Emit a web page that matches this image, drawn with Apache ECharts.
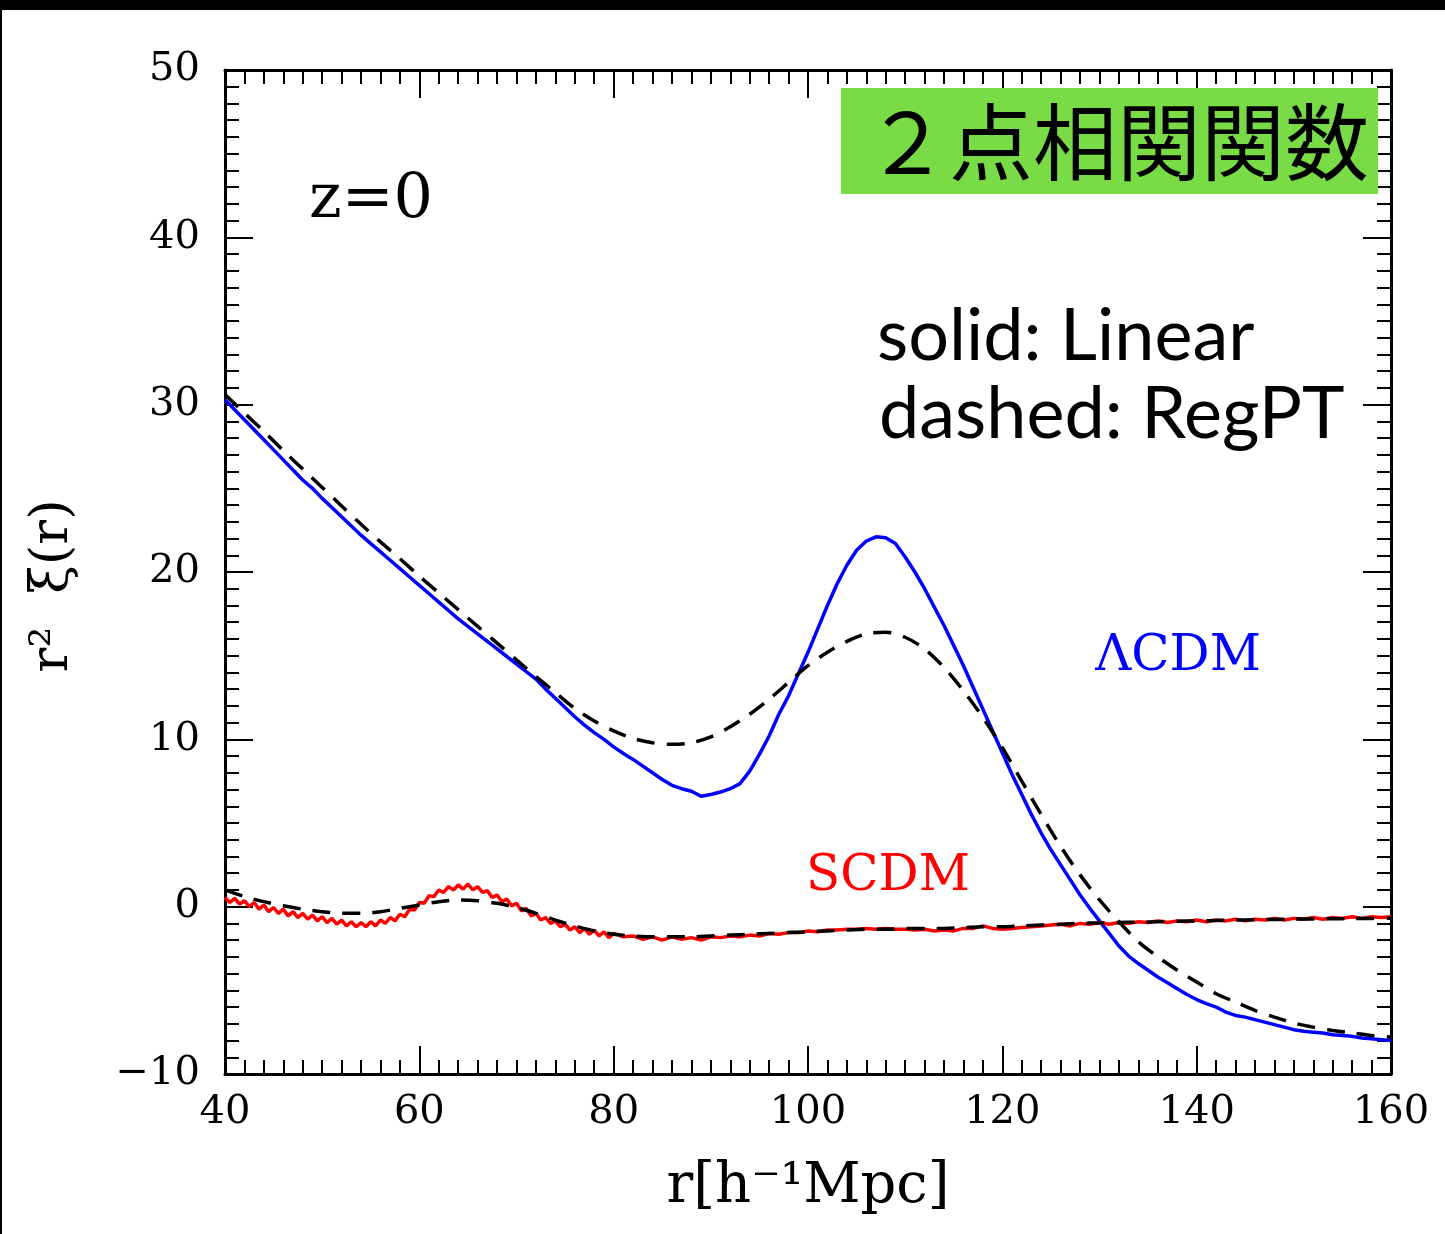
<!DOCTYPE html>
<html>
<head>
<meta charset="utf-8">
<script src="https://cdn.jsdelivr.net/npm/echarts@6/dist/echarts.min.js"></script>
<style>
html,body{margin:0;padding:0;background:#fff;}
#chart{width:1445px;height:1234px;}
</style>
</head>
<body>
<div id="chart"></div>
<script>
// ---------- data (r [h^-1 Mpc], r^2 xi(r)) ----------
const xTicks = [40, 60, 80, 100, 120, 140, 160];
const yTicks = [-10, 0, 10, 20, 30, 40, 50];

const lcdmLinear = [
[40,30.3],[41,29.7],[42,29.1],[43,28.5],[44,27.9],[45,27.3],[46,26.7],[47,26.1],[48,25.5],[49,25.0],
[50,24.4],[51,23.85],[52,23.3],[53,22.75],[54,22.2],[55,21.7],[56,21.2],[57,20.7],[58,20.2],[59,19.7],
[60,19.2],[61,18.7],[62,18.2],[63,17.7],[64,17.2],[65,16.75],[66,16.3],[67,15.85],[68,15.4],[69,14.95],
[70,14.5],[71,14.05],[72,13.6],[73,13.0],[74,12.45],[75,11.9],[76,11.35],[77,10.85],[78,10.4],[79,10.0],
[80,9.55],[81,9.15],[82,8.8],[83,8.4],[84,8.0],[85,7.6],[86,7.25],[87,7.05],[88,6.9],[89,6.6],
[90,6.7],[91,6.85],[92,7.05],[93,7.35],[94,8.1],[95,9.1],[96,10.2],[97,11.5],[98,12.6],[99,13.9],
[100,15.2],[101,16.6],[102,18.0],[103,19.3],[104,20.4],[105,21.3],[106,21.85],[107,22.1],[108,22.05],[109,21.7],
[110,20.9],[111,20.0],[112,19.0],[113,17.9],[114,16.8],[115,15.6],[116,14.4],[117,13.1],[118,11.8],[119,10.5],
[120,9.2],[121,7.9],[122,6.7],[123,5.5],[124,4.4],[125,3.4],[126,2.5],[127,1.6],[128,0.7],[129,-0.1],
[130,-0.85],[131,-1.6],[132,-2.35],[133,-2.95],[134,-3.4],[135,-3.8],[136,-4.2],[137,-4.55],[138,-4.9],[139,-5.25],
[140,-5.55],[141,-5.8],[142,-6.0],[143,-6.3],[144,-6.5],[145,-6.6],[146,-6.75],[147,-6.9],[148,-7.05],[149,-7.2],
[150,-7.35],[151,-7.45],[152,-7.5],[153,-7.55],[154,-7.65],[155,-7.7],[156,-7.75],[157,-7.85],[158,-7.9],[159,-7.95],
[160,-8.0]
];

const lcdmRegPT = [
[40,30.6],[42,29.5],[44,28.4],[46,27.25],[48,26.15],[50,25.05],[52,23.95],[54,22.85],[56,21.8],[58,20.8],
[60,19.75],[62,18.75],[64,17.75],[66,16.75],[68,15.75],[70,14.75],[72,13.75],[74,12.8],[76,11.85],[78,11.1],
[80,10.5],[82,10.05],[84,9.8],[86,9.7],[88,9.8],[90,10.15],[92,10.75],[94,11.5],[96,12.4],[98,13.4],
[100,14.4],[102,15.2],[104,15.85],[106,16.3],[108,16.4],[110,16.1],[112,15.4],[114,14.3],[116,12.9],[118,11.3],
[120,9.5],[122,7.5],[124,5.5],[126,3.6],[128,1.9],[130,0.4],[132,-0.9],[134,-2.1],[136,-3.0],[138,-3.8],
[140,-4.5],[142,-5.2],[144,-5.7],[146,-6.2],[148,-6.6],[150,-6.95],[152,-7.2],[154,-7.4],[156,-7.55],[158,-7.7],
[160,-7.8]
];

const scdmLinear = [
[40,0.55],[40.5,0.25],[41,0.5],[41.5,0.15],[42,0.35],[42.5,0.0],[43,0.25],[43.5,-0.15],[44,0.1],[44.5,-0.3],
[45,-0.05],[45.5,-0.4],[46,-0.15],[46.5,-0.55],[47,-0.3],[47.5,-0.65],[48,-0.4],[48.5,-0.75],[49,-0.5],[49.5,-0.85],
[50,-0.6],[50.5,-0.95],[51,-0.7],[51.5,-1.05],[52,-0.8],[52.5,-1.15],[53,-0.9],[53.5,-1.2],[54,-0.95],[54.5,-1.2],
[55,-0.9],[55.5,-1.15],[56,-0.8],[56.5,-1.0],[57,-0.65],[57.5,-0.85],[58,-0.45],[58.5,-0.6],[59,-0.15],[59.5,-0.2],
[60,0.25],[60.5,0.2],[61,0.65],[61.5,0.6],[62,1.0],[62.5,0.85],[63,1.2],[63.5,1.0],[64,1.3],[64.5,1.05],
[65,1.35],[65.5,1.0],[66,1.2],[66.5,0.85],[67,0.95],[67.5,0.55],[68,0.7],[68.5,0.3],[69,0.45],[69.5,0.05],
[70,0.2],[70.5,-0.25],[71,-0.1],[71.5,-0.55],[72,-0.4],[72.5,-0.8],[73,-0.65],[73.5,-1.0],[74,-0.85],[74.5,-1.2],
[75,-1.05],[75.5,-1.4],[76,-1.2],[76.5,-1.55],[77,-1.3],[77.5,-1.65],[78,-1.4],[78.5,-1.75],[79,-1.5],[79.5,-1.85],
[80,-1.6],[81,-1.8],[82,-1.75],[83,-1.95],[84,-1.8],[85,-2.0],[86,-1.8],[87,-1.95],[88,-1.85],[89,-2.0],
[90,-1.8],[91,-1.85],[92,-1.75],[93,-1.8],[94,-1.7],[95,-1.75],[96,-1.6],[97,-1.65],[98,-1.55],[99,-1.55],
[100,-1.45],[101,-1.5],[102,-1.4],[103,-1.4],[104,-1.35],[105,-1.35],[106,-1.3],[107,-1.35],[108,-1.3],[109,-1.35],
[110,-1.35],[111,-1.4],[112,-1.35],[113,-1.45],[114,-1.4],[115,-1.45],[116,-1.3],[117,-1.3],[118,-1.15],[119,-1.3],
[120,-1.35],[121,-1.3],[122,-1.25],[123,-1.2],[124,-1.15],[125,-1.1],[126,-1.05],[127,-1.15],[128,-1.0],[129,-1.05],
[130,-0.95],[131,-1.05],[132,-0.95],[133,-1.0],[134,-0.9],[135,-0.95],[136,-0.85],[137,-0.95],[138,-0.85],[139,-0.9],
[140,-0.8],[141,-0.9],[142,-0.8],[143,-0.85],[144,-0.75],[145,-0.85],[146,-0.75],[147,-0.8],[148,-0.7],[149,-0.8],
[150,-0.7],[151,-0.75],[152,-0.65],[153,-0.75],[154,-0.65],[155,-0.7],[156,-0.6],[157,-0.7],[158,-0.6],[159,-0.65],
[160,-0.6]
];

const scdmRegPT = [
[40,1.0],[42,0.6],[44,0.3],[46,0.05],[48,-0.15],[50,-0.3],[52,-0.4],[54,-0.4],[56,-0.3],[58,-0.1],
[60,0.1],[62,0.3],[64,0.4],[66,0.35],[68,0.2],[70,-0.05],[72,-0.4],[74,-0.8],[76,-1.15],[78,-1.45],
[80,-1.65],[82,-1.75],[84,-1.8],[86,-1.8],[88,-1.8],[90,-1.75],[92,-1.7],[94,-1.65],[96,-1.6],[98,-1.55],
[100,-1.5],[102,-1.45],[104,-1.4],[106,-1.35],[108,-1.35],[110,-1.3],[112,-1.3],[114,-1.3],[116,-1.25],[118,-1.2],
[120,-1.2],[122,-1.15],[124,-1.1],[126,-1.05],[128,-1.0],[130,-0.97],[132,-0.95],[134,-0.92],[136,-0.9],[138,-0.87],
[140,-0.85],[142,-0.82],[144,-0.8],[146,-0.78],[148,-0.76],[150,-0.74],[152,-0.73],[154,-0.72],[156,-0.71],[158,-0.7],
[160,-0.69]
];

// ---------- chart ----------
const SERIF = 'DejaVu Serif';
const chart = echarts.init(document.getElementById('chart'), null, {renderer: 'canvas'});

function axisCommon(extra) {
  return Object.assign({
    type: 'value',
    axisLine: {show: true, onZero: false, lineStyle: {color: '#000', width: 3}},
    axisTick: {show: true, inside: true, length: 28, lineStyle: {color: '#000', width: 2}},
    minorTick: {show: true, splitNumber: 10, length: 14, lineStyle: {color: '#000', width: 2}},
    splitLine: {show: false},
    minorSplitLine: {show: false}
  }, extra);
}
const fmt = v => (v < 0 ? '\u2212' + Math.abs(v) : String(v));

const option = {
  backgroundColor: '#fff',
  animation: false,
  grid: {left: 225, top: 70, width: 1166, height: 1004, containLabel: false},
  xAxis: [
    axisCommon({min: xTicks[0], max: xTicks[xTicks.length - 1], interval: 20, position: 'bottom',
      axisLabel: {show: true, margin: 19, fontFamily: SERIF, fontSize: 40, color: '#000', formatter: fmt}}),
    axisCommon({min: xTicks[0], max: xTicks[xTicks.length - 1], interval: 20, position: 'top',
      axisLabel: {show: false}})
  ],
  yAxis: [
    axisCommon({min: yTicks[0], max: yTicks[yTicks.length - 1], interval: 10, position: 'left',
      axisLabel: {show: true, margin: 25, fontFamily: SERIF, fontSize: 40, color: '#000', formatter: fmt}}),
    axisCommon({min: yTicks[0], max: yTicks[yTicks.length - 1], interval: 10, position: 'right',
      axisLabel: {show: false}})
  ],
  series: [
    {name: 'LCDM linear', type: 'line', data: lcdmLinear, showSymbol: false, symbol: 'none',
      lineStyle: {color: '#0000ff', width: 3.5}, z: 3},
    {name: 'SCDM linear', type: 'line', data: scdmLinear, showSymbol: false, symbol: 'none',
      lineStyle: {color: '#ff0000', width: 3.5}, z: 3},
    {name: 'LCDM RegPT', type: 'line', data: lcdmRegPT, showSymbol: false, symbol: 'none', smooth: 0.3,
      lineStyle: {color: '#000', width: 3.5, type: [18, 12]}, z: 4},
    {name: 'SCDM RegPT', type: 'line', data: scdmRegPT, showSymbol: false, symbol: 'none', smooth: 0.3,
      lineStyle: {color: '#000', width: 3.5, type: [18, 12]}, z: 4}
  ],
  graphic: [
    {type: 'rect', shape: {x: 0, y: 0, width: 1445, height: 10}, style: {fill: '#000'}, z: 100},
    {type: 'rect', shape: {x: 0, y: 0, width: 2, height: 1234}, style: {fill: '#000'}, z: 100},
    {type: 'rect', shape: {x: 841, y: 88, width: 537, height: 106}, style: {fill: '#79db45'}, z: 50},
    {type: 'text', x: 1117, y: 142, z: 51,
      style: {text: '２点相関関数', fontFamily: 'Noto Sans CJK JP', fontSize: 84, fill: '#000',
        align: 'center', verticalAlign: 'middle'}},
    {type: 'text', x: 309, y: 201, z: 51,
      style: {text: 'z=0', fontFamily: SERIF, fontSize: 62, fill: '#000', align: 'left', verticalAlign: 'middle'}},
    {type: 'text', x: 877, y: 337, z: 51,
      style: {text: 'solid: Linear', fontFamily: 'Lato', fontSize: 72, fill: '#000', align: 'left', verticalAlign: 'middle'}},
    {type: 'text', x: 879, y: 415, z: 51,
      style: {text: 'dashed: RegPT', fontFamily: 'Lato', fontSize: 72, fill: '#000', align: 'left', verticalAlign: 'middle'}},
    {type: 'text', x: 1178, y: 657, z: 51,
      style: {text: 'ΛCDM', fontFamily: SERIF, fontSize: 50, fill: '#0000ff', align: 'center', verticalAlign: 'middle'}},
    {type: 'text', x: 888, y: 877, z: 51,
      style: {text: 'SCDM', fontFamily: SERIF, fontSize: 50, fill: '#ff0000', align: 'center', verticalAlign: 'middle'}},
    {type: 'text', x: 808, y: 1187, z: 51,
      style: {text: 'r[h⁻¹Mpc]', fontFamily: SERIF, fontSize: 56, fill: '#000', align: 'center', verticalAlign: 'middle'}},
    {type: 'text', x: 53, y: 586, rotation: Math.PI / 2, z: 51,
      style: {text: 'r²  ξ(r)', fontFamily: SERIF, fontSize: 52, fill: '#000', align: 'center', verticalAlign: 'middle'}}
  ]
};
chart.setOption(option);
</script>
</body>
</html>
